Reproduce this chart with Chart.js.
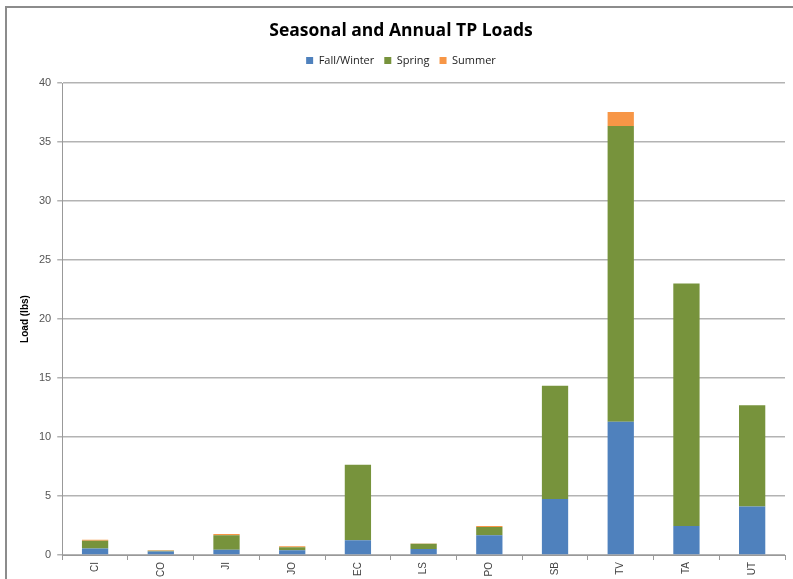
<!DOCTYPE html>
<html>
<head>
<meta charset="utf-8">
<script src="https://cdn.jsdelivr.net/npm/chart.js@4/dist/chart.umd.min.js"></script>
<style>
  html, body { margin: 0; padding: 0; background: #fff; overflow: hidden; }
  #wrap { position: relative; width: 793px; height: 579px; }
  #frame { position: absolute; left: 5px; top: 6px; width: 800px; height: 600px;
           border-top: 2px solid #8c8c8c; border-left: 2px solid #8c8c8c; box-sizing: border-box; }
  canvas { position: absolute; left: 0; top: 0; }
</style>
</head>
<body>
<div id="wrap">
  <div id="frame"></div>
  <canvas id="loadsChart" width="793" height="579"></canvas>
</div>
<script>
const sites = ['CI', 'CO', 'JI', 'JO', 'EC', 'LS', 'PO', 'SB', 'TV', 'TA', 'UT'];
const fallWinter = [0.55, 0.30, 0.45, 0.40, 1.25, 0.50, 1.68, 4.75, 11.30, 2.45, 4.10];
const spring     = [0.65, 0.05, 1.22, 0.25, 6.40, 0.45, 0.70, 9.60, 25.05, 20.55, 8.60];
const summer     = [0.10, 0.05, 0.10, 0.10, 0.00, 0.02, 0.08, 0.00, 1.20, 0.00, 0.00];

// leave some extra room between the legend and the plot area
const legendGap = {
    id: 'legendGap',
    beforeInit(chart) {
        const fit = chart.legend.fit;
        chart.legend.fit = function() {
            fit.bind(chart.legend)();
            this.height += 7;
        };
    }
};

document.addEventListener('DOMContentLoaded', function() {
    const ctx = document.getElementById('loadsChart').getContext('2d');
    new Chart(ctx, {
        type: 'bar',
        data: {
            labels: sites,
            datasets: [
                { label: 'Fall/Winter', data: fallWinter, backgroundColor: '#4f81bd' },
                { label: 'Spring', data: spring, backgroundColor: '#77933c' },
                { label: 'Summer', data: summer, backgroundColor: '#f79646' }
            ]
        },
        plugins: [legendGap],
        options: {
            responsive: false,
            animation: false,
            layout: { padding: { left: 17, right: 8, top: 21, bottom: 0 } },
            datasets: {
                bar: { categoryPercentage: 0.4, barPercentage: 1.0 }
            },
            scales: {
                x: {
                    stacked: true,
                    grid: { display: true, drawOnChartArea: false, offset: true, color: '#999', tickLength: 5 },
                    border: { color: '#999', width: 1 },
                    ticks: {
                        minRotation: 90, maxRotation: 90,
                        color: '#444',
                        font: { family: 'Liberation Sans, Arial', size: 10 },
                        padding: 2
                    }
                },
                y: {
                    stacked: true,
                    min: 0, max: 40,
                    ticks: {
                        stepSize: 5,
                        color: '#555',
                        font: { family: 'Liberation Sans, Arial', size: 11 },
                        padding: 6
                    },
                    grid: { color: '#b3b3b3', lineWidth: 1.5, tickLength: 5 },
                    border: { color: '#999', width: 1 },
                    title: {
                        display: true,
                        text: 'Load (lbs)',
                        color: '#000',
                        font: { family: 'Liberation Sans, Arial', size: 10, weight: 'bold' },
                        padding: 2
                    }
                }
            },
            plugins: {
                title: {
                    display: true,
                    text: 'Seasonal and Annual TP Loads',
                    color: '#000',
                    font: { family: 'Open Sans, Liberation Sans', size: 17.5, weight: 'bold' },
                    padding: { top: 0, bottom: 3 }
                },
                legend: {
                    position: 'top',
                    labels: {
                        boxWidth: 7, boxHeight: 7,
                        color: '#222',
                        padding: 10,
                        font: { family: 'Open Sans, Liberation Sans', size: 11 }
                    }
                },
                tooltip: { enabled: false }
            }
        }
    });
});
</script>
</body>
</html>
